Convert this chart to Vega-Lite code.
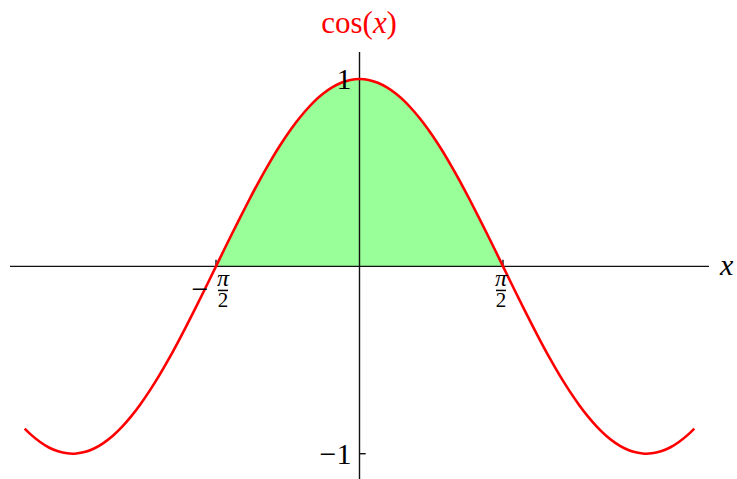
{
  "$schema": "https://vega.github.io/schema/vega-lite/v6.json",
  "width": 699,
  "height": 427,
  "autosize": {"type": "none"},
  "padding": {"left": 10, "top": 52, "right": 28, "bottom": 0},
  "background": "white",
  "config": {"view": {"stroke": null}},
  "datasets": {
    "cosine": [
      {"x": -3.665, "y": -0.866}, {"x": -3.6, "y": -0.897}, {"x": -3.5, "y": -0.936}, {"x": -3.4, "y": -0.967},
      {"x": -3.3, "y": -0.987}, {"x": -3.2, "y": -0.998}, {"x": -3.1416, "y": -1.0}, {"x": -3.1, "y": -0.999},
      {"x": -3.0, "y": -0.99}, {"x": -2.9, "y": -0.971}, {"x": -2.8, "y": -0.942}, {"x": -2.7, "y": -0.904},
      {"x": -2.6, "y": -0.857}, {"x": -2.5, "y": -0.801}, {"x": -2.4, "y": -0.737}, {"x": -2.3, "y": -0.666},
      {"x": -2.2, "y": -0.589}, {"x": -2.1, "y": -0.505}, {"x": -2.0, "y": -0.416}, {"x": -1.9, "y": -0.323},
      {"x": -1.8, "y": -0.227}, {"x": -1.7, "y": -0.129}, {"x": -1.6, "y": -0.029}, {"x": -1.5708, "y": 0.0},
      {"x": -1.5, "y": 0.071}, {"x": -1.4, "y": 0.17}, {"x": -1.3, "y": 0.267}, {"x": -1.2, "y": 0.362},
      {"x": -1.1, "y": 0.454}, {"x": -1.0, "y": 0.54}, {"x": -0.9, "y": 0.622}, {"x": -0.8, "y": 0.697},
      {"x": -0.7, "y": 0.765}, {"x": -0.6, "y": 0.825}, {"x": -0.5, "y": 0.878}, {"x": -0.4, "y": 0.921},
      {"x": -0.3, "y": 0.955}, {"x": -0.2, "y": 0.98}, {"x": -0.1, "y": 0.995}, {"x": 0.0, "y": 1.0},
      {"x": 0.1, "y": 0.995}, {"x": 0.2, "y": 0.98}, {"x": 0.3, "y": 0.955}, {"x": 0.4, "y": 0.921},
      {"x": 0.5, "y": 0.878}, {"x": 0.6, "y": 0.825}, {"x": 0.7, "y": 0.765}, {"x": 0.8, "y": 0.697},
      {"x": 0.9, "y": 0.622}, {"x": 1.0, "y": 0.54}, {"x": 1.1, "y": 0.454}, {"x": 1.2, "y": 0.362},
      {"x": 1.3, "y": 0.267}, {"x": 1.4, "y": 0.17}, {"x": 1.5, "y": 0.071}, {"x": 1.5708, "y": 0.0},
      {"x": 1.6, "y": -0.029}, {"x": 1.7, "y": -0.129}, {"x": 1.8, "y": -0.227}, {"x": 1.9, "y": -0.323},
      {"x": 2.0, "y": -0.416}, {"x": 2.1, "y": -0.505}, {"x": 2.2, "y": -0.589}, {"x": 2.3, "y": -0.666},
      {"x": 2.4, "y": -0.737}, {"x": 2.5, "y": -0.801}, {"x": 2.6, "y": -0.857}, {"x": 2.7, "y": -0.904},
      {"x": 2.8, "y": -0.942}, {"x": 2.9, "y": -0.971}, {"x": 3.0, "y": -0.99}, {"x": 3.1, "y": -0.999},
      {"x": 3.1416, "y": -1.0}, {"x": 3.2, "y": -0.998}, {"x": 3.3, "y": -0.987}, {"x": 3.4, "y": -0.967},
      {"x": 3.5, "y": -0.936}, {"x": 3.6, "y": -0.897}, {"x": 3.665, "y": -0.866}
    ]
  },
  "layer": [
    {
      "data": {"name": "cosine"},
      "transform": [{"filter": "datum.x >= -1.571 && datum.x <= 1.571"}],
      "mark": {"type": "area", "color": "#99FF99", "interpolate": "monotone"},
      "encoding": {
        "x": {"field": "x", "type": "quantitative", "scale": {"domain": [-3.826, 3.826], "nice": false, "zero": false}, "axis": null},
        "y": {"field": "y", "type": "quantitative", "scale": {"domain": [-1.135, 1.144], "nice": false, "zero": false}, "axis": null},
        "y2": {"datum": 0}
      }
    },
    {
      "data": {"values": [{"axis": "horizontal"}]},
      "mark": {"type": "rule", "color": "#111111", "strokeWidth": 1.4},
      "encoding": {"y": {"datum": 0, "type": "quantitative"}}
    },
    {
      "data": {"values": [{"axis": "vertical"}]},
      "mark": {"type": "rule", "color": "#111111", "strokeWidth": 1.4},
      "encoding": {"x": {"datum": 0, "type": "quantitative"}}
    },
    {
      "data": {"values": [{"tick": -1.5708}, {"tick": 1.5708}]},
      "mark": {"type": "rule", "color": "#111111", "strokeWidth": 1.4},
      "encoding": {
        "x": {"field": "tick", "type": "quantitative"},
        "y": {"datum": 0, "type": "quantitative"},
        "y2": {"datum": 0.035}
      }
    },
    {
      "data": {"values": [{"tick": -1}, {"tick": 1}]},
      "mark": {"type": "rule", "color": "#111111", "strokeWidth": 1.4},
      "encoding": {
        "y": {"field": "tick", "type": "quantitative"},
        "x": {"datum": 0, "type": "quantitative"},
        "x2": {"datum": 0.068}
      }
    },
    {
      "data": {"name": "cosine"},
      "mark": {"type": "line", "color": "#FF0000", "strokeWidth": 2.6, "interpolate": "monotone"},
      "encoding": {
        "x": {"field": "x", "type": "quantitative"},
        "y": {"field": "y", "type": "quantitative"}
      }
    },
    {
      "data": {"values": [{"label": "1", "v": 1}, {"label": "−1", "v": -1}]},
      "mark": {"type": "text", "font": "Liberation Serif", "fontSize": 30, "align": "right", "baseline": "alphabetic", "dx": -8, "dy": 10, "color": "black"},
      "encoding": {
        "x": {"datum": 0, "type": "quantitative"},
        "y": {"field": "v", "type": "quantitative"},
        "text": {"field": "label"}
      }
    },
    {
      "data": {"values": [{"label": "π", "v": 1.549}, {"label": "π", "v": -1.494}]},
      "mark": {"type": "text", "font": "Liberation Serif", "fontSize": 24, "fontStyle": "italic", "align": "center", "baseline": "alphabetic", "dy": 19.5, "color": "black"},
      "encoding": {
        "x": {"field": "v", "type": "quantitative"},
        "y": {"datum": 0, "type": "quantitative"},
        "text": {"field": "label"}
      }
    },
    {
      "data": {"values": [{"label": "2", "v": 1.549}, {"label": "2", "v": -1.494}]},
      "mark": {"type": "text", "font": "Liberation Serif", "fontSize": 21, "align": "center", "baseline": "alphabetic", "dy": 41, "color": "black"},
      "encoding": {
        "x": {"field": "v", "type": "quantitative"},
        "y": {"datum": 0, "type": "quantitative"},
        "text": {"field": "label"}
      }
    },
    {
      "data": {"values": [{"from": 1.494, "to": 1.604}, {"from": -1.549, "to": -1.439}]},
      "mark": {"type": "rule", "color": "black", "strokeWidth": 1.5},
      "encoding": {
        "x": {"field": "from", "type": "quantitative"},
        "x2": {"field": "to"},
        "y": {"datum": -0.1286, "type": "quantitative"}
      }
    },
    {
      "data": {"values": [{"label": "−"}]},
      "mark": {"type": "text", "font": "Liberation Serif", "fontSize": 30, "align": "center", "baseline": "alphabetic", "dy": 33, "color": "black"},
      "encoding": {
        "x": {"datum": -1.746, "type": "quantitative"},
        "y": {"datum": 0, "type": "quantitative"},
        "text": {"field": "label"}
      }
    },
    {
      "data": {"values": [{"label": "x"}]},
      "mark": {"type": "text", "font": "Liberation Serif", "fontSize": 30, "fontStyle": "italic", "align": "center", "baseline": "alphabetic", "dy": 8.6, "color": "black"},
      "encoding": {
        "x": {"datum": 4.02, "type": "quantitative"},
        "y": {"datum": 0, "type": "quantitative"},
        "text": {"field": "label"}
      }
    },
    {
      "data": {"values": [{"label": "cos("}]},
      "mark": {"type": "text", "font": "Liberation Serif", "fontSize": 31, "align": "right", "baseline": "alphabetic", "color": "#FF0000"},
      "encoding": {
        "x": {"datum": 0.1467, "type": "quantitative"},
        "y": {"datum": 1.243, "type": "quantitative"},
        "text": {"field": "label"}
      }
    },
    {
      "data": {"values": [{"label": "x"}]},
      "mark": {"type": "text", "font": "Liberation Serif", "fontSize": 31, "fontStyle": "italic", "align": "left", "baseline": "alphabetic", "color": "#FF0000"},
      "encoding": {
        "x": {"datum": 0.1467, "type": "quantitative"},
        "y": {"datum": 1.243, "type": "quantitative"},
        "text": {"field": "label"}
      }
    },
    {
      "data": {"values": [{"label": ")"}]},
      "mark": {"type": "text", "font": "Liberation Serif", "fontSize": 31, "align": "left", "baseline": "alphabetic", "color": "#FF0000"},
      "encoding": {
        "x": {"datum": 0.2956, "type": "quantitative"},
        "y": {"datum": 1.243, "type": "quantitative"},
        "text": {"field": "label"}
      }
    }
  ]
}
